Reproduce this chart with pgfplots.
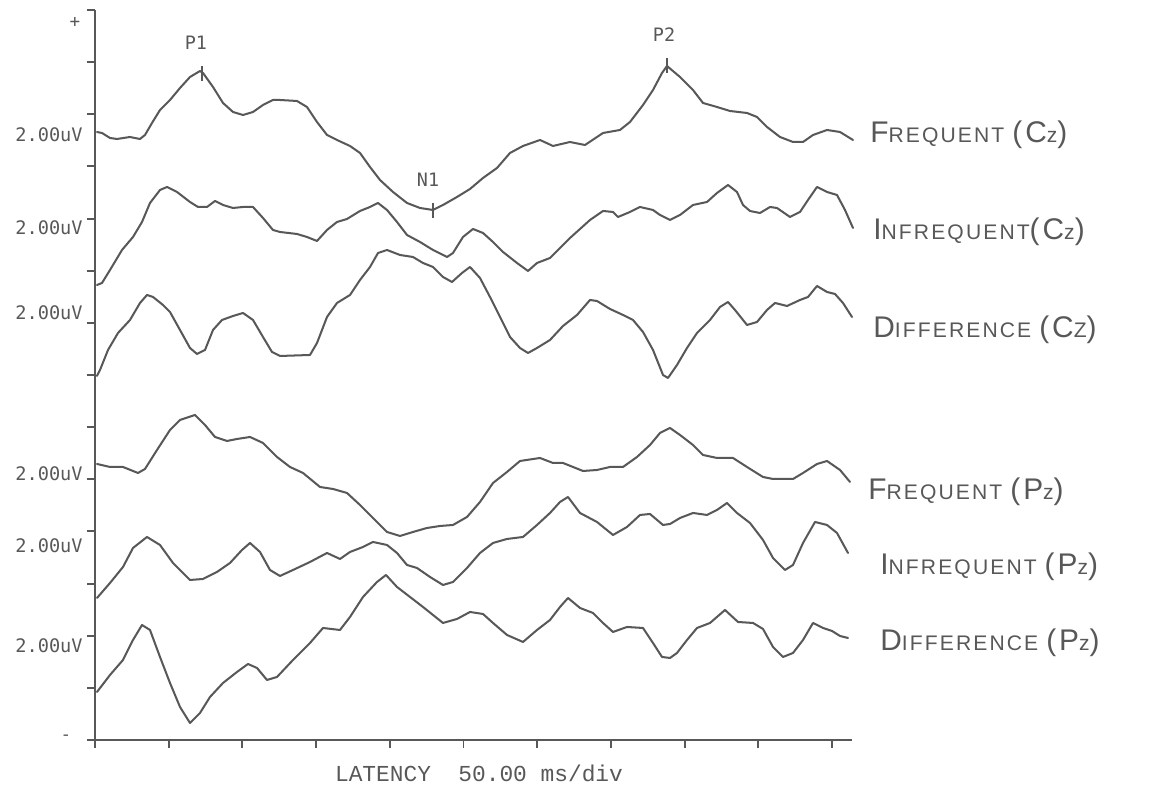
\documentclass[border=0pt]{standalone}
\usepackage{fontspec}
\usepackage{pgfplots}
\pgfplotsset{compat=1.18}
\setmainfont{Liberation Sans}
\newfontfamily\plotfont{DejaVu Sans Mono}
\newfontfamily\monofont{Liberation Mono}
\newfontfamily\hand{Liberation Sans}[LetterSpace=10]
\definecolor{ink}{RGB}{88,88,88}
\newcommand\Bg{\fontsize{17}{17}\selectfont}
\newcommand\Sm{\fontsize{12}{12}\selectfont}
\pgfplotsset{trace/.style={ink, solid, mark=none, line width=1.15pt, line join=round, line cap=round}}

\begin{document}
\begin{tikzpicture}
\begin{axis}[
  scale only axis, width=15.14cm, height=14.6cm,
  xmin=95, xmax=852, ymin=48, ymax=778,
  y filter/.expression={788-y},
  axis x line=bottom, axis y line=left,
  axis line style={-, ink, line width=1.1pt},
  tick style={ink, line width=1.1pt},
  major tick length=0.16cm, tick align=outside,
  xtick={95,168.7,242.4,316.1,389.8,463.5,537.2,610.9,684.6,758.3,832},
  ytick={48,100.1,152.3,204.4,256.6,308.7,360.9,413,465.1,517.3,569.4,621.6,673.7,725.9,778},
  xticklabel=\empty, yticklabel=\empty,
  clip=false,
]
% Frequent (Cz)
\addplot[trace] coordinates {(97,132)(102,133)(110,138)(117,139)(130,137)(140,139)(145,135)(152,123)(160,110)(170,100)(180,88)(190,77)(200,71)(203,73)(213,87)(223,103)(233,112)(243,115)(253,112)(263,105)(273,100)(280,100)(297,101)(307,107)(317,122)(327,135)(337,140)(350,146)(360,153)(370,167)(380,180)(393,192)(407,203)(420,208)(433,210)(443,205)(457,197)(470,189)(483,178)(497,168)(510,153)(523,146)(540,140)(553,146)(570,142)(585,145)(603,133)(620,130)(630,122)(643,105)(653,90)(662,73)(667,66)(680,77)(693,90)(703,103)(717,107)(730,111)(747,113)(757,117)(767,127)(780,137)(793,142)(803,142)(813,135)(827,130)(840,132)(853,140)};
% Infrequent (Cz)
\addplot[trace] coordinates {(97,285)(102,283)(110,270)(122,250)(133,237)(142,222)(150,203)(160,190)(167,187)(177,192)(190,202)(198,207)(207,207)(215,201)(223,205)(233,208)(243,207)(253,207)(263,218)(273,230)(280,232)(297,234)(307,237)(317,241)(327,230)(337,222)(347,219)(360,211)(370,207)(378,203)(387,210)(397,222)(407,235)(420,242)(433,250)(447,257)(453,253)(463,237)(473,229)(483,233)(493,242)(503,252)(517,263)(528,271)(537,263)(550,258)(560,248)(570,238)(580,229)(590,220)(603,211)(613,212)(618,217)(630,212)(640,207)(653,210)(660,215)(670,220)(680,215)(693,205)(707,202)(717,193)(728,185)(737,192)(743,205)(750,211)(760,213)(770,207)(777,208)(790,217)(800,212)(808,200)(817,187)(827,192)(837,195)(845,210)(853,228)};
% Difference (Cz)
\addplot[trace] coordinates {(97,376)(100,370)(108,350)(118,333)(130,320)(140,303)(147,295)(153,297)(163,305)(170,312)(180,330)(190,348)(197,354)(205,350)(213,330)(222,320)(233,316)(243,313)(253,320)(263,337)(272,352)(280,356)(310,355)(317,343)(327,317)(337,303)(350,295)(360,280)(370,267)(378,253)(387,250)(400,255)(413,257)(423,263)(433,267)(443,277)(452,282)(462,273)(470,267)(480,278)(490,297)(500,317)(510,337)(520,348)(528,353)(537,348)(550,340)(563,326)(577,315)(590,300)(597,301)(610,309)(623,315)(633,320)(643,332)(653,350)(663,375)(668,378)(677,365)(687,348)(697,333)(710,320)(720,307)(728,302)(735,310)(747,325)(757,322)(767,310)(775,303)(787,306)(800,300)(808,297)(817,286)(827,292)(835,294)(843,303)(852,317)};
% Frequent (Pz)
\addplot[trace] coordinates {(97,464)(110,467)(123,467)(138,473)(145,469)(157,450)(170,430)(180,420)(195,415)(205,425)(215,437)(227,441)(237,439)(250,437)(263,443)(277,457)(290,467)(303,473)(320,487)(333,489)(347,493)(360,505)(373,518)(387,532)(400,536)(413,532)(427,528)(440,526)(453,525)(467,517)(480,502)(493,483)(507,472)(520,461)(540,458)(553,463)(563,463)(583,471)(597,470)(610,467)(623,467)(637,457)(650,445)(660,433)(670,428)(680,435)(693,445)(703,455)(717,458)(733,458)(747,467)(763,477)(773,479)(793,479)(803,473)(817,464)(827,461)(840,470)(850,482)};
% Infrequent (Pz)
\addplot[trace] coordinates {(97,598)(110,583)(123,567)(133,548)(147,537)(160,545)(173,563)(190,580)(203,579)(217,572)(230,563)(242,550)(250,543)(260,552)(270,570)(280,576)(293,570)(310,562)(327,553)(340,559)(350,552)(363,547)(373,542)(387,545)(397,553)(407,565)(417,568)(430,577)(443,585)(453,582)(467,568)(480,553)(493,543)(507,539)(523,537)(537,525)(550,513)(560,502)(568,497)(580,513)(597,522)(613,535)(627,527)(640,515)(650,514)(663,525)(670,524)(680,518)(693,513)(707,515)(717,510)(727,503)(737,513)(750,523)(763,540)(773,558)(785,570)(793,565)(803,543)(815,522)(827,525)(837,533)(848,553)};
% Difference (Pz)
\addplot[trace] coordinates {(97,692)(110,675)(123,660)(133,640)(142,625)(150,630)(160,657)(170,683)(180,707)(190,723)(200,713)(210,697)(223,683)(237,672)(248,664)(257,668)(267,680)(277,677)(293,660)(310,643)(323,628)(340,630)(350,617)(363,597)(377,582)(386,575)(397,587)(410,597)(423,607)(433,615)(443,623)(457,619)(470,612)(483,614)(493,623)(507,635)(523,642)(537,630)(550,620)(560,607)(568,598)(580,608)(593,613)(603,623)(613,632)(627,627)(643,628)(653,643)(662,657)(670,658)(677,653)(687,640)(697,628)(710,623)(725,610)(738,622)(753,623)(763,629)(773,647)(783,657)(793,653)(803,640)(813,623)(823,628)(832,631)(840,636)(848,638)};
% peak markers P1, N1, P2
\addplot[ink, only marks, mark=|, mark size=0.15cm, mark options={ink, line width=1pt}] coordinates {(202,74)(433,211)(667,66)};

% peak labels
\node[ink, font=\plotfont\fontsize{10.5}{11}\selectfont] at (axis cs:196,745) {P1};
\node[ink, font=\plotfont\fontsize{10.5}{11}\selectfont] at (axis cs:428,608) {N1};
\node[ink, font=\plotfont\fontsize{10.5}{11}\selectfont] at (axis cs:664,753) {P2};

% polarity marks
\node[ink, font=\plotfont\fontsize{10}{10}\selectfont] at (axis cs:75,766) {+};
\node[ink, font=\plotfont\fontsize{10}{10}\selectfont] at (axis cs:66,50) {-};

% scale labels
\node[ink, anchor=east, inner sep=0pt, font=\plotfont\fontsize{10.6}{11}\selectfont] at (axis cs:83,653) {2.00uV};
\node[ink, anchor=east, inner sep=0pt, font=\plotfont\fontsize{10.6}{11}\selectfont] at (axis cs:83,560) {2.00uV};
\node[ink, anchor=east, inner sep=0pt, font=\plotfont\fontsize{10.6}{11}\selectfont] at (axis cs:83,475) {2.00uV};
\node[ink, anchor=east, inner sep=0pt, font=\plotfont\fontsize{10.6}{11}\selectfont] at (axis cs:83,314) {2.00uV};
\node[ink, anchor=east, inner sep=0pt, font=\plotfont\fontsize{10.6}{11}\selectfont] at (axis cs:83,242) {2.00uV};
\node[ink, anchor=east, inner sep=0pt, font=\plotfont\fontsize{10.6}{11}\selectfont] at (axis cs:83,142) {2.00uV};

% x axis caption
\node[ink, font=\monofont\fontsize{13}{14}\selectfont] at (axis cs:479,15) {LATENCY\ \ 50.00 ms/div};

% handwritten trace labels
\node[ink, anchor=west, inner sep=0pt, font=\hand] at (axis cs:870,653) {\Bg F\Sm REQUENT \Bg(C\Sm z\Bg)};
\node[ink, anchor=west, inner sep=0pt, font=\hand] at (axis cs:873,556) {\Bg I\Sm NFREQUENT\Bg(C\Sm z\Bg)};
\node[ink, anchor=west, inner sep=0pt, font=\hand] at (axis cs:873,458) {\Bg D\Sm IFFERENCE \Bg(C\Sm Z\Bg)};
\node[ink, anchor=west, inner sep=0pt, font=\hand] at (axis cs:868,296) {\Bg F\Sm REQUENT \Bg(P\Sm z\Bg)};
\node[ink, anchor=west, inner sep=0pt, font=\hand] at (axis cs:880,221) {\Bg I\Sm NFREQUENT \Bg(P\Sm z\Bg)};
\node[ink, anchor=west, inner sep=0pt, font=\hand] at (axis cs:880,145) {\Bg D\Sm IFFERENCE \Bg(P\Sm z\Bg)};

\coordinate (bl) at (axis cs:0,0);
\coordinate (tr) at (axis cs:1152,788);
\end{axis}
\pgfresetboundingbox
\useasboundingbox (bl) rectangle (tr);
\end{tikzpicture}
\end{document}
